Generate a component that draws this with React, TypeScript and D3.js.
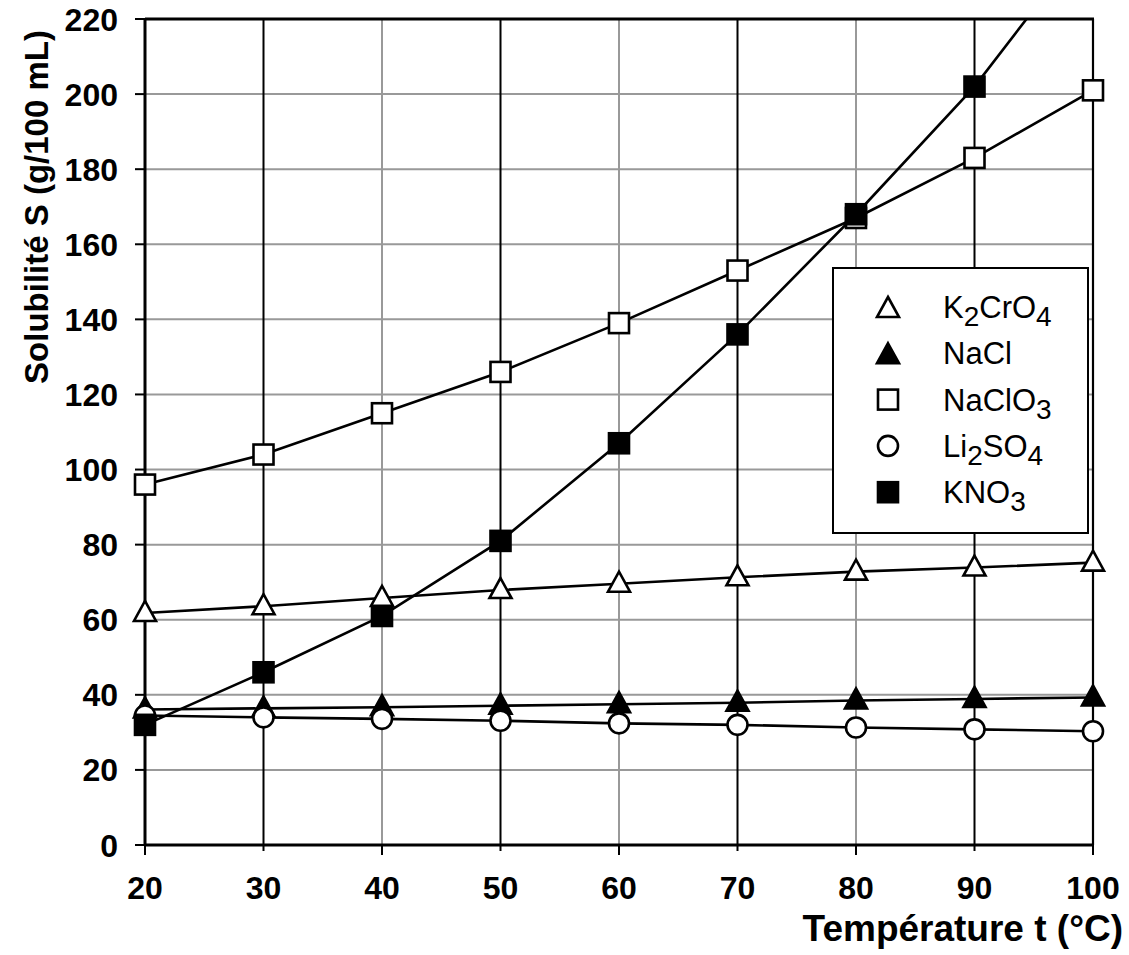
import React from 'react';
import * as d3 from 'd3';

const temps = [20, 30, 40, 50, 60, 70, 80, 90, 100];
const k2cro4 = [61.8, 63.6, 65.8, 67.9, 69.6, 71.3, 72.8, 73.9, 75.2];
const nacl = [36.1, 36.4, 36.7, 37.1, 37.5, 37.9, 38.5, 38.9, 39.3];
const naclo3 = [96, 104, 115, 126, 139, 153, 167, 183, 201];
const li2so4 = [34.5, 34.0, 33.6, 33.1, 32.4, 32.0, 31.3, 30.8, 30.3];
const kno3 = [32, 46, 61, 81, 107, 136, 168, 202, 243];
const xTicks = [20, 30, 40, 50, 60, 70, 80, 90, 100];
const yTicks = [0, 20, 40, 60, 80, 100, 120, 140, 160, 180, 200, 220];

type Marker = 'tri' | 'square' | 'circle';
const seriesNames = ['K2CrO4', 'NaCl', 'NaClO3', 'Li2SO4', 'KNO3'];
const seriesValues = [k2cro4, nacl, naclo3, li2so4, kno3];
const seriesMarker: Marker[] = ['tri', 'tri', 'square', 'circle', 'square'];
const seriesFilled = [false, true, false, false, true];
// legend label parts: [text, isSubscript]
const legendParts: [string, boolean][][] = [
  [['K', false], ['2', true], ['CrO', false], ['4', true]],
  [['NaCl', false]],
  [['NaClO', false], ['3', true]],
  [['Li', false], ['2', true], ['SO', false], ['4', true]],
  [['KNO', false], ['3', true]],
];

const W = 1129;
const H = 955;
const left = 145;
const right = 1093;
const top = 19;
const bottom = 845;
const FONT = '"Liberation Sans", Arial, sans-serif';

function MarkerShape({ kind, filled, cx, cy }: { kind: Marker; filled: boolean; cx: number; cy: number }) {
  const fill = filled ? '#000' : '#fff';
  const sw = 2.6;
  if (kind === 'square') {
    return <rect x={cx - 10} y={cy - 10} width={20} height={20} fill={fill} stroke="#000" strokeWidth={sw} />;
  }
  if (kind === 'circle') {
    return <circle cx={cx} cy={cy} r={10} fill={fill} stroke="#000" strokeWidth={sw} />;
  }
  const pts = `${cx},${cy - 12} ${cx + 11},${cy + 8} ${cx - 11},${cy + 8}`;
  return <polygon points={pts} fill={fill} stroke="#000" strokeWidth={sw} strokeLinejoin="miter" />;
}

export default function App() {
  const x = d3.scaleLinear().domain([20, 100]).range([left, right]);
  const y = d3.scaleLinear().domain([0, 220]).range([bottom, top]);
  const line = d3
    .line<number>()
    .x((_, i) => x(temps[i]))
    .y((d) => y(d));

  const legX = 833;
  const legY = 268;
  const legW = 255;
  const legH = 265;
  const rowY = (i: number) => 307 + i * 46.3;

  return (
    <svg
      width={W}
      height={H}
      style={{ position: 'absolute', left: 0, top: 0, background: '#fff' }}
      fontFamily={FONT}
    >
      <defs>
        <clipPath id="plotClip">
          <rect x={left - 15} y={top} width={right - left + 30} height={bottom - top + 15} />
        </clipPath>
      </defs>
      <rect x={0} y={0} width={W} height={H} fill="#fff" />
      {/* horizontal grid */}
      {yTicks.filter((t) => t > 0 && t < 220).map((t) => (
        <line key={'hg' + t} x1={left} x2={right} y1={y(t)} y2={y(t)} stroke="#999" strokeWidth={2} />
      ))}
      {/* vertical grid */}
      {xTicks.filter((t) => t > 20 && t < 100).map((t) => (
        <line
          key={'vg' + t}
          x1={x(t)}
          x2={x(t)}
          y1={top}
          y2={bottom}
          stroke={t % 20 === 0 ? '#999' : '#000'}
          strokeWidth={2}
        />
      ))}
      {/* frame top & right */}
      <line x1={left} x2={right + 1} y1={top} y2={top} stroke="#000" strokeWidth={3} />
      <line x1={right} x2={right} y1={top} y2={bottom} stroke="#000" strokeWidth={2.2} />
      {/* axes */}
      <line x1={left} x2={left} y1={top} y2={bottom} stroke="#000" strokeWidth={3} />
      <line x1={left - 1} x2={right + 1} y1={bottom} y2={bottom} stroke="#000" strokeWidth={3} />
      {yTicks.map((t) => (
        <g key={'yt' + t}>
          <line x1={left - 10} x2={left} y1={y(t)} y2={y(t)} stroke="#000" strokeWidth={2} />
          <text
            x={118}
            y={y(t)}
            dy="0.36em"
            textAnchor="end"
            fontSize={32}
            fontWeight="bold"
          >
            {t}
          </text>
        </g>
      ))}
      {xTicks.map((t) => (
        <g key={'xt' + t}>
          <line
            x1={x(t)}
            x2={x(t)}
            y1={bottom}
            y2={bottom + (t % 20 === 0 ? 10 : 6)}
            stroke="#000"
            strokeWidth={2}
          />
          <text x={x(t)} y={899} textAnchor="middle" fontSize={32} fontWeight="bold">
            {t}
          </text>
        </g>
      ))}
      {/* axis titles */}
      <text x={1123} y={941} textAnchor="end" fontSize={37} fontWeight="bold">
        Température t (°C)
      </text>
      <text
        transform={`translate(48, 207) rotate(-90)`}
        textAnchor="middle"
        fontSize={33}
        fontWeight="bold"
      >
        Solubilité S (g/100 mL)
      </text>
      {/* series */}
      <g clipPath="url(#plotClip)">
        {seriesValues.map((vals, si) => (
          <g key={'s' + si}>
            <path d={line(vals) || ''} fill="none" stroke="#000" strokeWidth={2.6} />
            {vals.map((v, i) =>
              v <= 220 ? (
                <MarkerShape
                  key={i}
                  kind={seriesMarker[si]}
                  filled={seriesFilled[si]}
                  cx={x(temps[i])}
                  cy={y(v)}
                />
              ) : null
            )}
          </g>
        ))}
      </g>
      {/* legend */}
      <rect x={legX} y={legY} width={legW} height={legH} fill="#fff" stroke="#000" strokeWidth={2} />
      {seriesNames.map((name, i) => (
        <g key={'lg' + name}>
          <MarkerShape kind={seriesMarker[i]} filled={seriesFilled[i]} cx={888} cy={rowY(i) + (seriesMarker[i] === 'tri' ? 2 : 0)} />
          <text x={943} y={rowY(i) + 11} fontSize={31}>
            {legendParts[i].map(([s, sub], k) => (
              <tspan key={k} fontSize={sub ? 28 : 31} dy={sub ? 8 : k > 0 ? -8 : 0}>
                {s}
              </tspan>
            ))}
          </text>
        </g>
      ))}
    </svg>
  );
}
